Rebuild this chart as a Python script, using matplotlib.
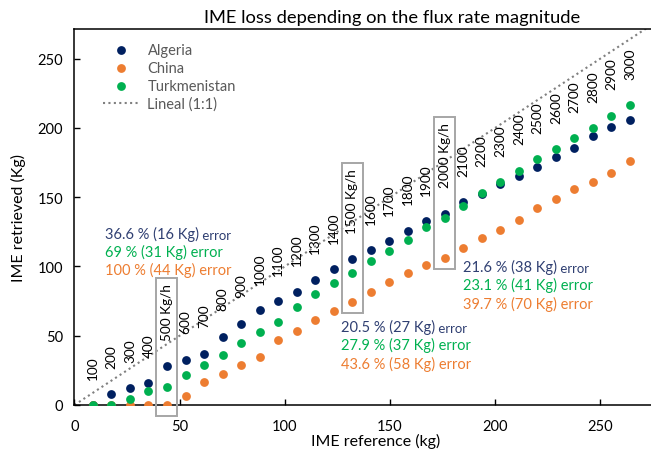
import matplotlib.pyplot as plt
from matplotlib.patches import Rectangle
from matplotlib.transforms import IdentityTransform

plt.rcParams['font.family'] = ['Lato', 'DejaVu Sans']

# flux rates (kg/h) and the matching reference IME (kg)
rates = [100, 200, 300, 400, 500, 600, 700, 800, 900, 1000,
         1100, 1200, 1300, 1400, 1500, 1600, 1700, 1800, 1900, 2000,
         2100, 2200, 2300, 2400, 2500, 2600, 2700, 2800, 2900, 3000]
ime_ref = [8.8, 17.6, 26.4, 35.2, 44.0, 52.8, 61.6, 70.4, 79.2, 88.0,
           96.8, 105.6, 114.4, 123.2, 132.0, 140.8, 149.6, 158.4, 167.2, 176.0,
           184.8, 193.6, 202.4, 211.2, 220.0, 228.8, 237.6, 246.4, 255.2, 264.0]

# retrieved IME (kg) per site
algeria = [0, 8, 12, 15.6, 28, 32.7, 37, 49.3, 58.7, 68.4,
           75, 81.7, 90.4, 97.9, 105, 111.8, 118.3, 125.8, 132.5, 138,
           146.5, 152.2, 159.2, 165.2, 171.5, 179.2, 185.4, 193.9, 200.9, 205.4]
china = [0, 0, 0, 0, 0, 6.7, 16.6, 22.6, 29.1, 34.4,
         46.7, 53.4, 61.1, 68, 74, 81.3, 89, 95.2, 101.2, 106,
         113.5, 120.5, 126.5, 133.2, 141.9, 148.6, 155.6, 160.9, 167.4, 176.3]
turkmenistan = [0, 0, 4.3, 9.9, 13, 21.6, 28.9, 36, 44.5, 52.4,
                59.9, 70.7, 80.1, 88, 95, 103.6, 111.3, 118.8, 128.4, 135,
                143.8, 153.2, 160.7, 169.1, 177.2, 184.5, 192.6, 199.9, 208.8, 216.2]

boxed_rates = [500, 1500, 2000]

# error summaries: (anchor x, anchor y, [algeria, turkmenistan, china])
error_notes = [
    (14.5, 124, ['36.6 % (16 Kg)', '69 % (31 Kg) error', '100 % (44 Kg) error']),
    (126.6, 56.6, ['20.5 % (27 Kg)', '27.9 % (37 Kg) error', '43.6 % (58 Kg) error']),
    (184.6, 100, ['21.6 % (38 Kg)', '23.1 % (41 Kg) error', '39.7 % (70 Kg) error']),
]

c_alg = '#002060'
c_chn = '#ED7D31'
c_trk = '#00B050'
c_alg_txt = '#2F3F72'

W, H = 651, 456
fig = plt.figure(figsize=(W / 100, H / 100), dpi=100)
x0, y0, y1 = 74.4, 406, 30
ax = fig.add_axes([x0 / W, (H - y0) / H, (W - x0) / W, (y0 - y1) / H])

ms = 40
ax.scatter(ime_ref, algeria, s=ms, color=c_alg, linewidths=0, label='Algeria', zorder=3)
ax.scatter(ime_ref, china, s=ms, color=c_chn, linewidths=0, label='China', zorder=3)
ax.scatter(ime_ref, turkmenistan, s=ms, color=c_trk, linewidths=0, label='Turkmenistan', zorder=3)
ax.plot([0, 300], [0, 300], color='#808080', lw=1.5, ls=(0, (1, 1.6)),
        label='Lineal (1:1)', zorder=1)

ax.set_xlim(0, 274)
ax.set_ylim(0, 271.3)
ax.set_xticks(range(0, 251, 50))
ax.set_yticks(range(0, 251, 50))
ax.tick_params(direction='in', length=4, width=1, labelsize=10.5, colors='black')
ax.tick_params(axis='y', pad=8)
ax.tick_params(axis='x', pad=10)
for s in ['left', 'bottom', 'top']:
    ax.spines[s].set_linewidth(1.1)
ax.spines['right'].set_visible(False)

leg = ax.legend(loc='upper left', bbox_to_anchor=((103 - x0) / (W - x0), (y0 - 44) / (y0 - y1)),
                frameon=False, fontsize=10.5, labelcolor='#595959', borderpad=0,
                borderaxespad=0, handlelength=2.5, handletextpad=0.55,
                labelspacing=0.27, scatterpoints=1)

# rate labels above each column
top_pts = [max(a, c, t) for a, c, t in zip(algeria, china, turkmenistan)]
boxed_labels = {}
for r, x, y in zip(rates, ime_ref, top_pts):
    txt = f'{r} Kg/h' if r in boxed_rates else str(r)
    t = ax.annotate(txt, (x, y), xytext=(0, 19), textcoords='offset points',
                    rotation=90, ha='center', va='bottom', fontsize=9.8, color='black')
    if r in boxed_rates:
        boxed_labels[r] = t

# error summaries
for ex, ey, lines in error_notes:
    t0 = ax.annotate(lines[0], (ex, ey), xytext=(0, 0), textcoords='offset points',
                     ha='left', va='center', fontsize=10.5, color=c_alg_txt)
    ax.annotate(' error', xy=(1, 0), xycoords=t0, ha='left', va='bottom',
                fontsize=9.5, color=c_alg_txt)
    ax.annotate(lines[1], (ex, ey), xytext=(0, -13.2), textcoords='offset points',
                ha='left', va='center', fontsize=10.5, color=c_trk)
    ax.annotate(lines[2], (ex, ey), xytext=(0, -26.4), textcoords='offset points',
                ha='left', va='center', fontsize=10.5, color=c_chn)

fig.text(392 / W, 1 - 18 / H, 'IME loss depending on the flux rate magnitude',
         ha='center', va='center', fontsize=13.2, color='black')
fig.text(376 / W, 1 - 441 / H, 'IME reference (kg)', ha='center', va='center',
         fontsize=11.5, color='black')
fig.text(18 / W, 1 - 218 / H, 'IME retrieved (Kg)', rotation=90, ha='center',
         va='center', fontsize=11.5, color='black')

# gray boxes around the highlighted columns
fig.canvas.draw()
renderer = fig.canvas.get_renderer()
for r, t in boxed_labels.items():
    i = rates.index(r)
    bb = t.get_window_extent(renderer)
    cx, _ = ax.transData.transform((ime_ref[i], 0))
    low = min(algeria[i], china[i], turkmenistan[i])
    _, y_low = ax.transData.transform((0, low))
    y_low -= 11
    top = bb.y1 + 5
    rect = Rectangle((cx - 10.5, y_low), 21, top - y_low, fill=False,
                     edgecolor='#A6A6A6', lw=1.4, transform=IdentityTransform())
    fig.add_artist(rect)

fig.savefig('out.png', dpi=100)
